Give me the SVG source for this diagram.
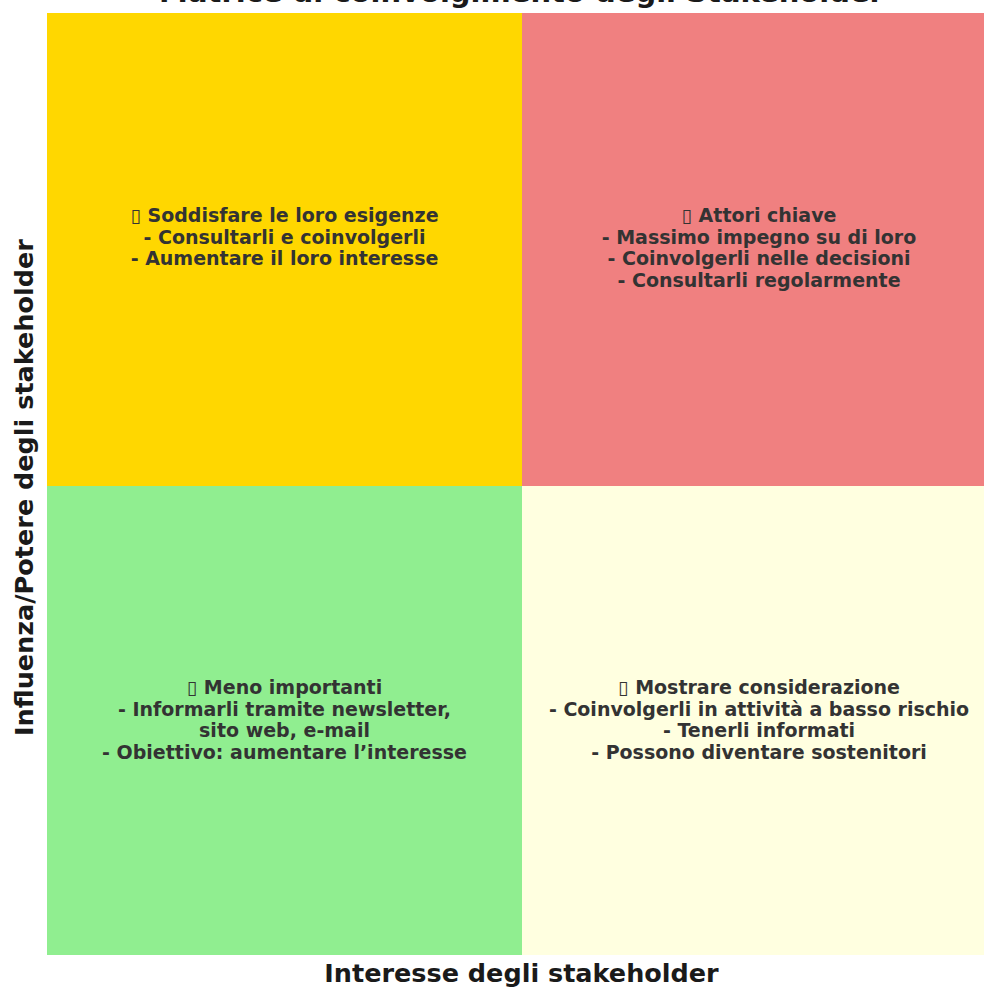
<svg xmlns="http://www.w3.org/2000/svg" width="984" height="987" viewBox="0 0 984 987">
<style>
.q{stroke:none}
.t{font-family:"DejaVu Sans","Liberation Sans",sans-serif;font-weight:bold;font-size:19px;fill:#333333;text-anchor:middle}
.lab{font-family:"DejaVu Sans","Liberation Sans",sans-serif;font-weight:bold;font-size:25.5px;fill:#1a1a1a;text-anchor:middle}
.title{font-family:"DejaVu Sans","Liberation Sans",sans-serif;font-weight:bold;font-size:29px;fill:#1a1a1a;text-anchor:middle}
</style>
<rect width="984" height="987" fill="#ffffff"/>
<text class="title" x="521.5" y="2">Matrice di coinvolgimento degli Stakeholder</text>
<g id="q-tl">
<rect class="q" x="47" y="13" width="475" height="473" fill="#FFD700"/>
<text class="t" x="284.5" y="222">▯ Soddisfare le loro esigenze</text>
<text class="t" x="284.5" y="243.5">- Consultarli e coinvolgerli</text>
<text class="t" x="284.5" y="265">- Aumentare il loro interesse</text>
</g>
<g id="q-tr">
<rect class="q" x="522" y="13" width="474" height="473" fill="#F08080"/>
<text class="t" x="759" y="222">▯ Attori chiave</text>
<text class="t" x="759" y="243.5">- Massimo impegno su di loro</text>
<text class="t" x="759" y="265">- Coinvolgerli nelle decisioni</text>
<text class="t" x="759" y="286.5">- Consultarli regolarmente</text>
</g>
<g id="q-bl">
<rect class="q" x="47" y="486" width="475" height="469" fill="#90EE90"/>
<text class="t" x="284.5" y="694">▯ Meno importanti</text>
<text class="t" x="284.5" y="715.5">- Informarli tramite newsletter,</text>
<text class="t" x="284.5" y="737">sito web, e-mail</text>
<text class="t" x="284.5" y="758.5">- Obiettivo: aumentare l’interesse</text>
</g>
<g id="q-br">
<rect class="q" x="522" y="486" width="474" height="469" fill="#FFFFE0"/>
<text class="t" x="759" y="694">▯ Mostrare considerazione</text>
<text class="t" x="759" y="715.5">- Coinvolgerli in attività a basso rischio</text>
<text class="t" x="759" y="737">- Tenerli informati</text>
<text class="t" x="759" y="758.5">- Possono diventare sostenitori</text>
</g>
<g id="connectors"></g>
<text class="lab" x="521.5" y="982">Interesse degli stakeholder</text>
<text class="lab" transform="translate(33,487.5) rotate(-90)">Influenza/Potere degli stakeholder</text>
</svg>
